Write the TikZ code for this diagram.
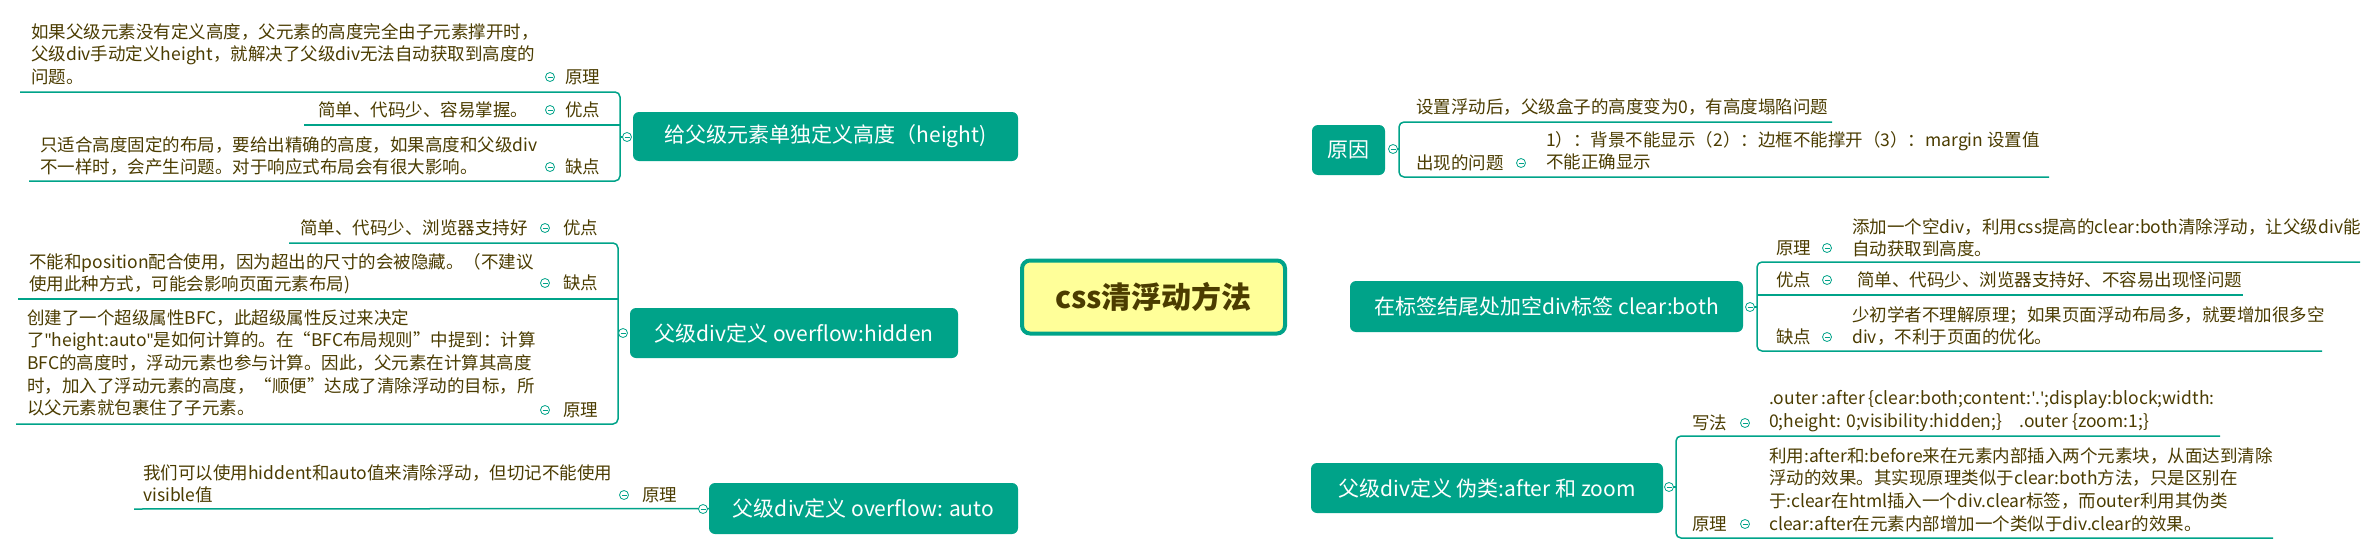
\documentclass[tikz,border=0pt]{standalone}
\usepackage{fontspec}
\setmainfont{Noto Sans CJK SC}
\newfontfamily\latn{Noto Sans}
\usetikzlibrary{calc,backgrounds}
\definecolor{tealx}{RGB}{0,163,137}
\definecolor{txtc}{RGB}{75,60,0}
\definecolor{cyel}{RGB}{255,255,153}
\newcommand\qd{{\latn\textquotedbl}}
\newcommand\qs{{\latn\textquotesingle}}
\begin{document}
\begin{tikzpicture}[x=1pt,y=-1pt,
 br/.style={rectangle, rounded corners=6pt, fill=tealx, text=white, font=\fontsize{21}{25}\selectfont, inner sep=0pt},
 tx/.style={anchor=north west, align=left, inner sep=0pt, text=txtc, font=\fontsize{17.5}{22.7}\selectfont},
 tx1/.style={anchor=west, inner sep=0pt, text=txtc, font=\fontsize{17.5}{22.7}\selectfont},
 tog/.style={circle, draw=tealx, fill=white, line width=0.8pt, minimum size=9pt, inner sep=0pt,
   path picture={\draw[tealx,line width=0.8pt] ([xshift=-2.5pt]path picture bounding box.center) -- ([xshift=2.5pt]path picture bounding box.center);}},
 conn/.style={draw=tealx, line width=2.5pt},
 ul/.style={draw=tealx, line width=1.5pt, rounded corners=5pt}
]
\fill[white] (0,0) rectangle (2376,554);
\useasboundingbox (0,0) rectangle (2376,554);

% central
\node[rectangle, rounded corners=8pt, draw=tealx, line width=4pt, fill=cyel, minimum width=263pt, minimum height=73pt, text=txtc, font=\fontsize{30}{34}\selectfont\bfseries] (C) at (1153.5,297) {css清浮动方法};

% branches
\node[br, minimum width=385pt, minimum height=49pt] (L1) at (825.5,136.5) {给父级元素单独定义高度（height)};
\node[br, minimum width=328pt, minimum height=50pt] (L2) at (794,333) {父级div定义 overflow:hidden};
\node[br, minimum width=309pt, minimum height=51pt] (L3) at (863.5,508.5) {父级div定义 overflow: auto};
\node[br, minimum width=73pt, minimum height=50pt] (R1) at (1348.5,150) {原因};
\node[br, minimum width=393pt, minimum height=51pt] (R2) at (1546.5,306.5) {在标签结尾处加空div标签 clear:both};
\node[br, minimum width=352pt, minimum height=50pt] (R3) at (1487,488) {父级div定义 伪类:after 和 zoom};

\begin{pgfonlayer}{background}
\draw[conn] (L1.east) .. controls +(70,0) and +(-8,-70) .. ([xshift=-33pt]C.north);
\draw[conn] (L2.east) .. controls +(30,0) and +(-30,0) .. ([yshift=-25pt]C.west);
\draw[conn] (L3.east) .. controls +(60,0) and +(-5,70) .. ([xshift=-26pt]C.south);
\draw[conn] ([xshift=42pt]C.north) .. controls +(8,-70) and +(-50,0) .. (R1.west);
\draw[conn] ([yshift=-6pt]C.east) .. controls +(30,0) and +(-30,0) .. (R2.west);
\draw[conn] ([xshift=35pt]C.south) .. controls +(5,70) and +(-60,0) .. (R3.west);
\end{pgfonlayer}

% ---- L1 children
\draw[ul] (20,92) -- (620,92) -- (620,181) -- (29,181);
\draw[ul] (304,125) -- (620,125);
\draw[tealx, line width=1.5pt] (620,137) -- (627,137);
\node[tog] (tL1) at (627,137) {};
\node[tx] (L1a) at (31,23) {如果父级元素没有定义高度，父元素的高度完全由子元素撑开时，\\父级div手动定义height，就解决了父级div无法自动获取到高度的\\问题。};
\node[tog] (tL1a) at (550,77) {};
\node[tx1] (lL1a) at (565,77) {原理};
\node[tx1] (L1b) at (318,110) {简单、代码少、容易掌握。};
\node[tog] (tL1b) at (550,110) {};
\node[tx1] (lL1b) at (565,110) {优点};
\node[tx] (L1c) at (40,136) {只适合高度固定的布局，要给出精确的高度，如果高度和父级div\\不一样时，会产生问题。对于响应式布局会有很大影响。};
\node[tog] (tL1c) at (550,167) {};
\node[tx1] (lL1c) at (565,167) {缺点};

% ---- L2 children
\draw[ul] (289,243) -- (618,243) -- (618,424) -- (16,424);
\draw[ul] (18,299) -- (618,299);
\draw[tealx, line width=1.5pt] (618,333) -- (623,333);
\node[tog] (tL2) at (623,333) {};
\node[tx1] (L2a) at (300,228) {简单、代码少、浏览器支持好};
\node[tog] (tL2a) at (545,228) {};
\node[tx1] (lL2a) at (563,228) {优点};
\node[tx] (L2b) at (29,253) {不能和position配合使用，因为超出的尺寸的会被隐藏。（不建议\\使用此种方式，可能会影响页面元素布局)};
\node[tog] (tL2b) at (545,283) {};
\node[tx1] (lL2b) at (563,283) {缺点};
\node[tx] (L2c) at (27,309) {创建了一个超级属性BFC，此超级属性反过来决定\\了\qd height:auto\qd 是如何计算的。在“BFC布局规则”中提到：计算\\BFC的高度时，浮动元素也参与计算。因此，父元素在计算其高度\\时，加入了浮动元素的高度，“顺便”达成了清除浮动的目标，所\\以父元素就包裹住了子元素。};
\node[tog] (tL2c) at (545,410) {};
\node[tx1] (lL2c) at (563,410) {原理};

% ---- L3 children
\draw[ul] (134,509) -- (L3.west);
\node[tog] (tL3) at (703,509) {};
\node[tx] (L3a) at (143,464) {我们可以使用hiddent和auto值来清除浮动，但切记不能使用\\visible值};
\node[tog] (tL3a) at (624,495) {};
\node[tx1] (lL3a) at (642,495) {原理};

% ---- R1 children
\draw[ul] (1832,122) -- (1399,122) -- (1399,177) -- (2049,177);
\draw[tealx, line width=1.5pt] (1393,149) -- (1399,149);
\node[tog] (tR1) at (1393,149) {};
\node[tx1] (R1a) at (1416,107) {设置浮动后，父级盒子的高度变为0，有高度塌陷问题};
\node[tx1] (lR1b) at (1416,163) {出现的问题};
\node[tog] (tR1b) at (1521,163) {};
\node[tx] (R1b) at (1546,131) {1）：背景不能显示（2）：边框不能撑开（3）：margin 设置值\\不能正确显示};

% ---- R2 children
\draw[ul] (2360,262) -- (1757,262) -- (1757,351) -- (2322,351);
\draw[ul] (1757,295) -- (2243,295);
\draw[tealx, line width=1.5pt] (1750,307) -- (1757,307);
\node[tog] (tR2) at (1750,307) {};
\node[tx1] (lR2a) at (1776,248) {原理};
\node[tog] (tR2a) at (1827,248) {};
\node[tx] (R2a) at (1852,218) {添加一个空div，利用css提高的clear:both清除浮动，让父级div能\\自动获取到高度。};
\node[tx1] (lR2b) at (1776,280) {优点};
\node[tog] (tR2b) at (1827,280) {};
\node[tx1] (R2b) at (1857,280) {简单、代码少、浏览器支持好、不容易出现怪问题};
\node[tx1] (lR2c) at (1776,337) {缺点};
\node[tog] (tR2c) at (1827,337) {};
\node[tx] (R2c) at (1852,306) {少初学者不理解原理；如果页面浮动布局多，就要增加很多空\\div，不利于页面的优化。};

% ---- R3 children
\draw[ul] (2220,436) -- (1676,436) -- (1676,538) -- (2273,538);
\draw[tealx, line width=1.5pt] (1669,487) -- (1676,487);
\node[tog] (tR3) at (1669,487) {};
\node[tx1] (lR3a) at (1692,423) {写法};
\node[tog] (tR3a) at (1745,423) {};
\node[tx] (R3a) at (1769,390) {.outer :after \{clear:both;content:\qs.\qs;display:block;width:\\0;height: 0;visibility:hidden;\}\quad .outer \{zoom:1;\}};
\node[tx1] (lR3b) at (1692,524) {原理};
\node[tog] (tR3b) at (1745,524) {};
\node[tx] (R3b) at (1769,447) {利用:after和:before来在元素内部插入两个元素块，从面达到清除\\浮动的效果。其实现原理类似于clear:both方法，只是区别在\\于:clear在html插入一个div.clear标签，而outer利用其伪类\\clear:after在元素内部增加一个类似于div.clear的效果。};
\end{tikzpicture}
\end{document}
